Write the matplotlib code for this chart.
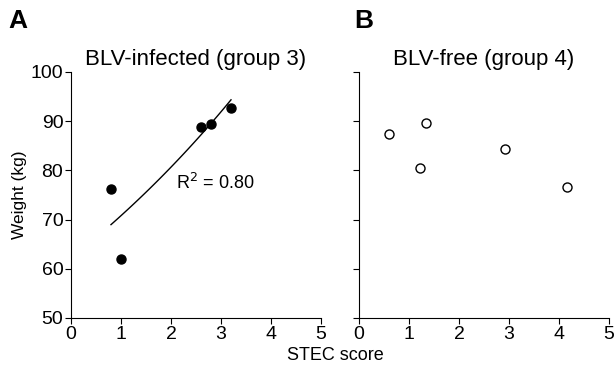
import matplotlib.pyplot as plt
import numpy as np

plt.rcParams['font.family'] = ['Liberation Sans', 'DejaVu Sans']

# group 3 (BLV-infected)
x_inf = [0.8, 1.0, 2.6, 2.8, 3.2]
y_inf = [76.2, 61.9, 88.8, 89.4, 92.6]
# group 4 (BLV-free)
x_free = [0.6, 1.22, 1.33, 2.93, 4.15]
y_free = [87.3, 80.5, 89.7, 84.4, 76.7]

r2_text = 'R$^2$ = 0.80'
xticks = [0, 1, 2, 3, 4, 5]
yticks = [50, 60, 70, 80, 90, 100]

fig = plt.figure(figsize=(6.16, 3.69), dpi=100)
ax1 = fig.add_axes([71/616, 51/369, 250/616, 246/369])
ax2 = fig.add_axes([359/616, 51/369, 250/616, 246/369])

# exponential trend line for group 3
b, ln_a = np.polyfit(x_inf, np.log(y_inf), 1)
xf = np.linspace(min(x_inf), max(x_inf), 100)
ax1.plot(xf, np.exp(ln_a) * np.exp(b * xf) + 0.6, color='black', lw=1)

ax1.plot(x_inf, y_inf, 'o', color='black', markersize=6.5)
ax2.plot(x_free, y_free, 'o', markerfacecolor='white', markeredgecolor='black',
         markeredgewidth=1, markersize=6.5)

ax1.text(2.1, 76.3, r2_text, fontsize=13)

for ax, title in [(ax1, 'BLV-infected (group 3)'), (ax2, 'BLV-free (group 4)')]:
    ax.set_xlim(0, 5)
    ax.set_ylim(50, 100)
    ax.set_xticks(xticks)
    ax.set_yticks(yticks)
    ax.spines['top'].set_visible(False)
    ax.spines['right'].set_visible(False)
    ax.tick_params(direction='out', length=4.5, labelsize=14, pad=1)
    ax.set_title(title, fontsize=16, pad=5)

ax2.set_yticklabels([])
ax1.set_ylabel('Weight (kg)', fontsize=12.5, labelpad=3)

fig.text(335/616, 1 - 355/369, 'STEC score', fontsize=13, ha='center', va='center')
fig.text(8/616, 1 - 21/369, 'A', fontsize=19, fontweight='bold', va='center')
fig.text(354/616, 1 - 21/369, 'B', fontsize=19, fontweight='bold', va='center')

fig.savefig('out.png', dpi=100)
